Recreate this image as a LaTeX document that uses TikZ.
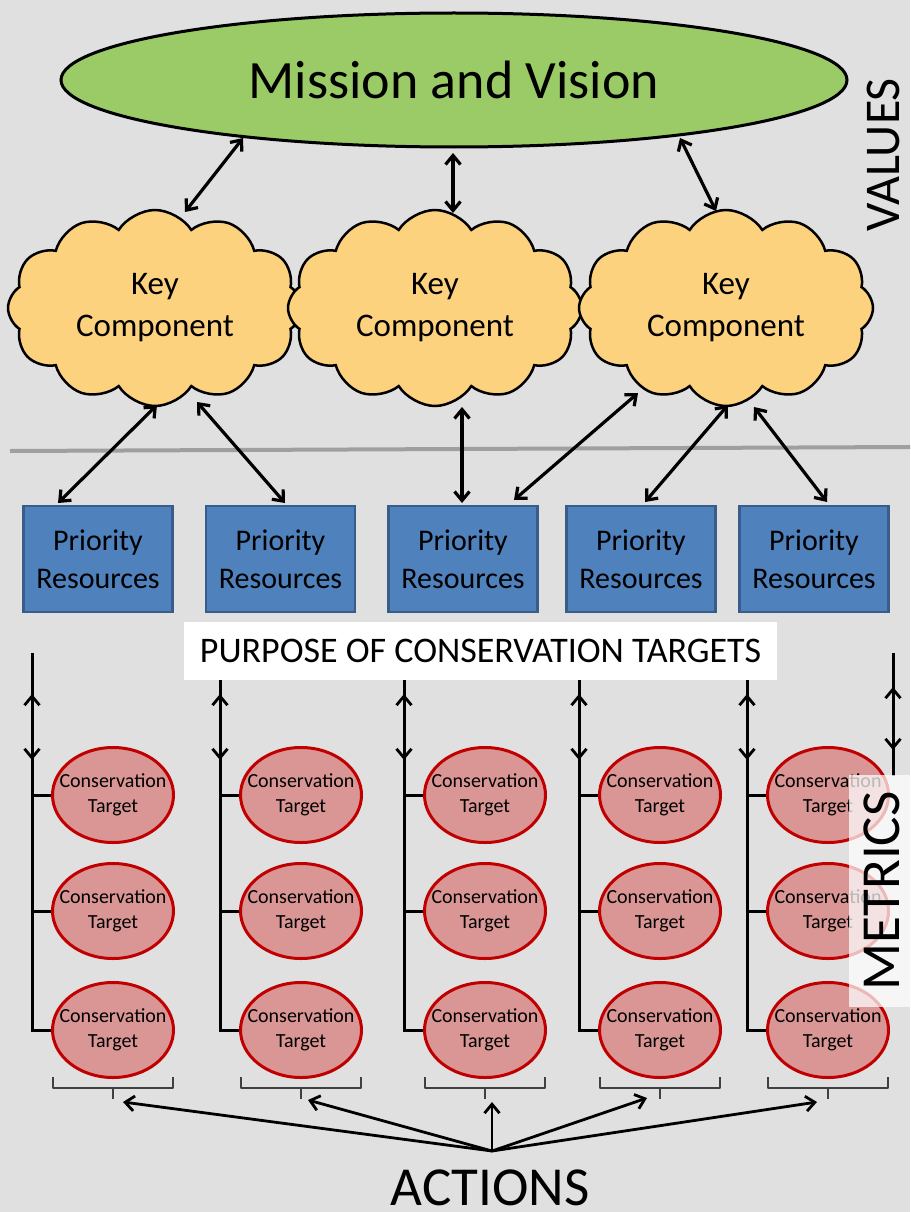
\documentclass[tikz,border=0pt]{standalone}
\usepackage{fontspec}
\setmainfont{Carlito}
\usetikzlibrary{arrows.meta,shapes.geometric,shapes.symbols}
\definecolor{bg}{HTML}{E0E0E0}
\definecolor{mvgreen}{HTML}{9BCB67}
\definecolor{kcfill}{HTML}{FDD27F}
\definecolor{prfill}{HTML}{4F81BD}
\definecolor{prdraw}{HTML}{385D8A}
\definecolor{ctfill}{HTML}{D99694}
\definecolor{ctdraw}{HTML}{C00000}
\definecolor{brk}{HTML}{404040}
\begin{document}
\begin{tikzpicture}[x=1pt,y=-1pt,
  tipb/.tip={Straight Barb[length=9pt,width=15pt]},
  dbl/.style={line width=3.2pt,tipb-tipb},
  sgl/.style={line width=2.8pt,-tipb},
  colline/.style={line width=3pt},
  brace/.style={draw=brk,line width=1.8pt},
  mvnode/.style={ellipse,draw=black,line width=3pt,fill=mvgreen,minimum width=786pt,minimum height=134pt,inner sep=0pt,font=\fontsize{54}{60}\selectfont},
  kcnode/.style={cloud,cloud puffs=12,cloud puff arc=115,aspect=1.5,draw=black,line width=2.5pt,fill=kcfill,minimum width=294pt,minimum height=196pt,inner sep=0pt,align=center,font=\fontsize{33}{42}\selectfont},
  prnode/.style={rectangle,draw=prdraw,line width=2.5pt,fill=prfill,minimum width=149pt,minimum height=106pt,inner sep=0pt,align=center,font=\fontsize{30}{38}\selectfont},
  ctnode/.style={ellipse,draw=ctdraw,line width=3pt,fill=ctfill,minimum width=121pt,minimum height=95pt,inner xsep=-14pt,inner ysep=0pt,align=center,font=\fontsize{20}{25}\selectfont},
  bigtxt/.style={inner sep=0pt}]
\fill[bg] (0,0) rectangle (910,1212);
\useasboundingbox (0,0) rectangle (910,1212);

% separator line
\coordinate (sepL) at (10,451);
\coordinate (sepR) at (910,447);
\draw[line width=4pt,color=gray!75] (sepL) -- (sepR);

% mission
\node[mvnode] (mv) at (454,80) {Mission and Vision};
\node[bigtxt,font=\fontsize{50}{60}\selectfont,rotate=90,anchor=base] (values) at (899,155) {VALUES};

% clouds
\node[kcnode] (kc1) at (155,308) {Key\\Component};
\node[kcnode] (kc2) at (435,308) {Key\\Component};
\node[kcnode] (kc3) at (726,308) {Key\\Component};

% mission arrows
\coordinate (m1) at (243,138); \coordinate (k1t) at (185,212);
\coordinate (m2) at (453,153); \coordinate (k2t) at (453,213);
\coordinate (m3) at (680,138); \coordinate (k3t) at (716,211);
\draw[dbl] (m1) -- (k1t);
\draw[dbl] (m2) -- (k2t);
\draw[dbl] (m3) -- (k3t);

% priority resources
\node[prnode] (pr1) at (98,559) {Priority\\Resources};
\node[prnode] (pr2) at (280.5,559) {Priority\\Resources};
\node[prnode] (pr3) at (463,559) {Priority\\Resources};
\node[prnode] (pr4) at (641,559) {Priority\\Resources};
\node[prnode] (pr5) at (814,559) {Priority\\Resources};

% cloud-resource arrows
\coordinate (a1t) at (157,405); \coordinate (a1b) at (58,503);
\coordinate (a2t) at (197,402); \coordinate (a2b) at (285,503);
\coordinate (a3t) at (462,407); \coordinate (a3b) at (462,503);
\coordinate (a4t) at (638,393); \coordinate (a4b) at (514,500);
\coordinate (a5t) at (728,405); \coordinate (a5b) at (645,502);
\coordinate (a6t) at (754,407); \coordinate (a6b) at (827,502);
\draw[dbl] (a1t) -- (a1b);
\draw[dbl] (a2t) -- (a2b);
\draw[dbl] (a3t) -- (a3b);
\draw[dbl] (a4t) -- (a4b);
\draw[dbl] (a5t) -- (a5b);
\draw[dbl] (a6t) -- (a6b);

% conservation target columns
\foreach \i/\lx/\cx in {1/32/113,2/220/301,3/404/485,4/579/660,5/747/828}{
  \coordinate (top\i) at (\lx,653);
  \coordinate (up\i) at (\lx,694);
  \coordinate (dn\i) at (\lx,760);
  \coordinate (ja\i) at (\lx,795);
  \coordinate (jb\i) at (\lx,911);
  \coordinate (jc\i) at (\lx,1030);
  \node[ctnode] (ct\i a) at (\cx,795) {Conservation\\Target};
  \node[ctnode] (ct\i b) at (\cx,911) {Conservation\\Target};
  \node[ctnode] (ct\i c) at (\cx,1030) {Conservation\\Target};
  \draw[colline] (top\i) -- (jc\i) -- (ct\i c.west);
  \draw[colline] (ja\i) -- (ct\i a.west);
  \draw[colline] (jb\i) -- (ct\i b.west);
  \draw[dbl,line width=2.8pt] (dn\i) -- (up\i);
  % bracket
  \coordinate (bl\i) at ({\cx-60},1077);
  \coordinate (br\i) at ({\cx+60},1077);
  \coordinate (bm\i) at (\cx,1088);
  \coordinate (bt\i) at (\cx,1099);
  \draw[brace,line join=round] (bl\i) -- ++(0,11) -| (br\i);
  \draw[brace] (bm\i) -- (bt\i);
}

% right column arrow (to metrics)
\coordinate (top6) at (893,653);
\coordinate (up6) at (893,687);
\coordinate (dn6) at (893,750);
\coordinate (end6) at (893,776);
\draw[colline] (top6) -- (end6);
\draw[dbl,line width=2.8pt] (dn6) -- (up6);

% purpose box
\node[fill=white,minimum width=593pt,minimum height=58pt,inner sep=0pt,font=\fontsize{36}{38}\selectfont] (purpose) at (480.5,651) {PURPOSE OF CONSERVATION TARGETS};

% metrics box
\fill[white,opacity=0.72] (849,775) rectangle (910,1007);
\node[bigtxt,font=\fontsize{55}{60}\selectfont,rotate=90,anchor=base] (metrics) at (899,891) {METRICS};

% actions
\node[bigtxt,font=\fontsize{55}{60}\selectfont,anchor=base] (actions) at (490,1205) {ACTIONS};
\coordinate (hub) at (492,1151);
\coordinate (t1) at (123,1102);
\coordinate (t2) at (308,1100);
\coordinate (t3) at (492,1102);
\coordinate (t4) at (647,1098);
\coordinate (t5) at (817,1102);
\foreach \k in {1,...,5}{\draw[sgl] (hub) -- (t\k);}
\end{tikzpicture}
\end{document}
